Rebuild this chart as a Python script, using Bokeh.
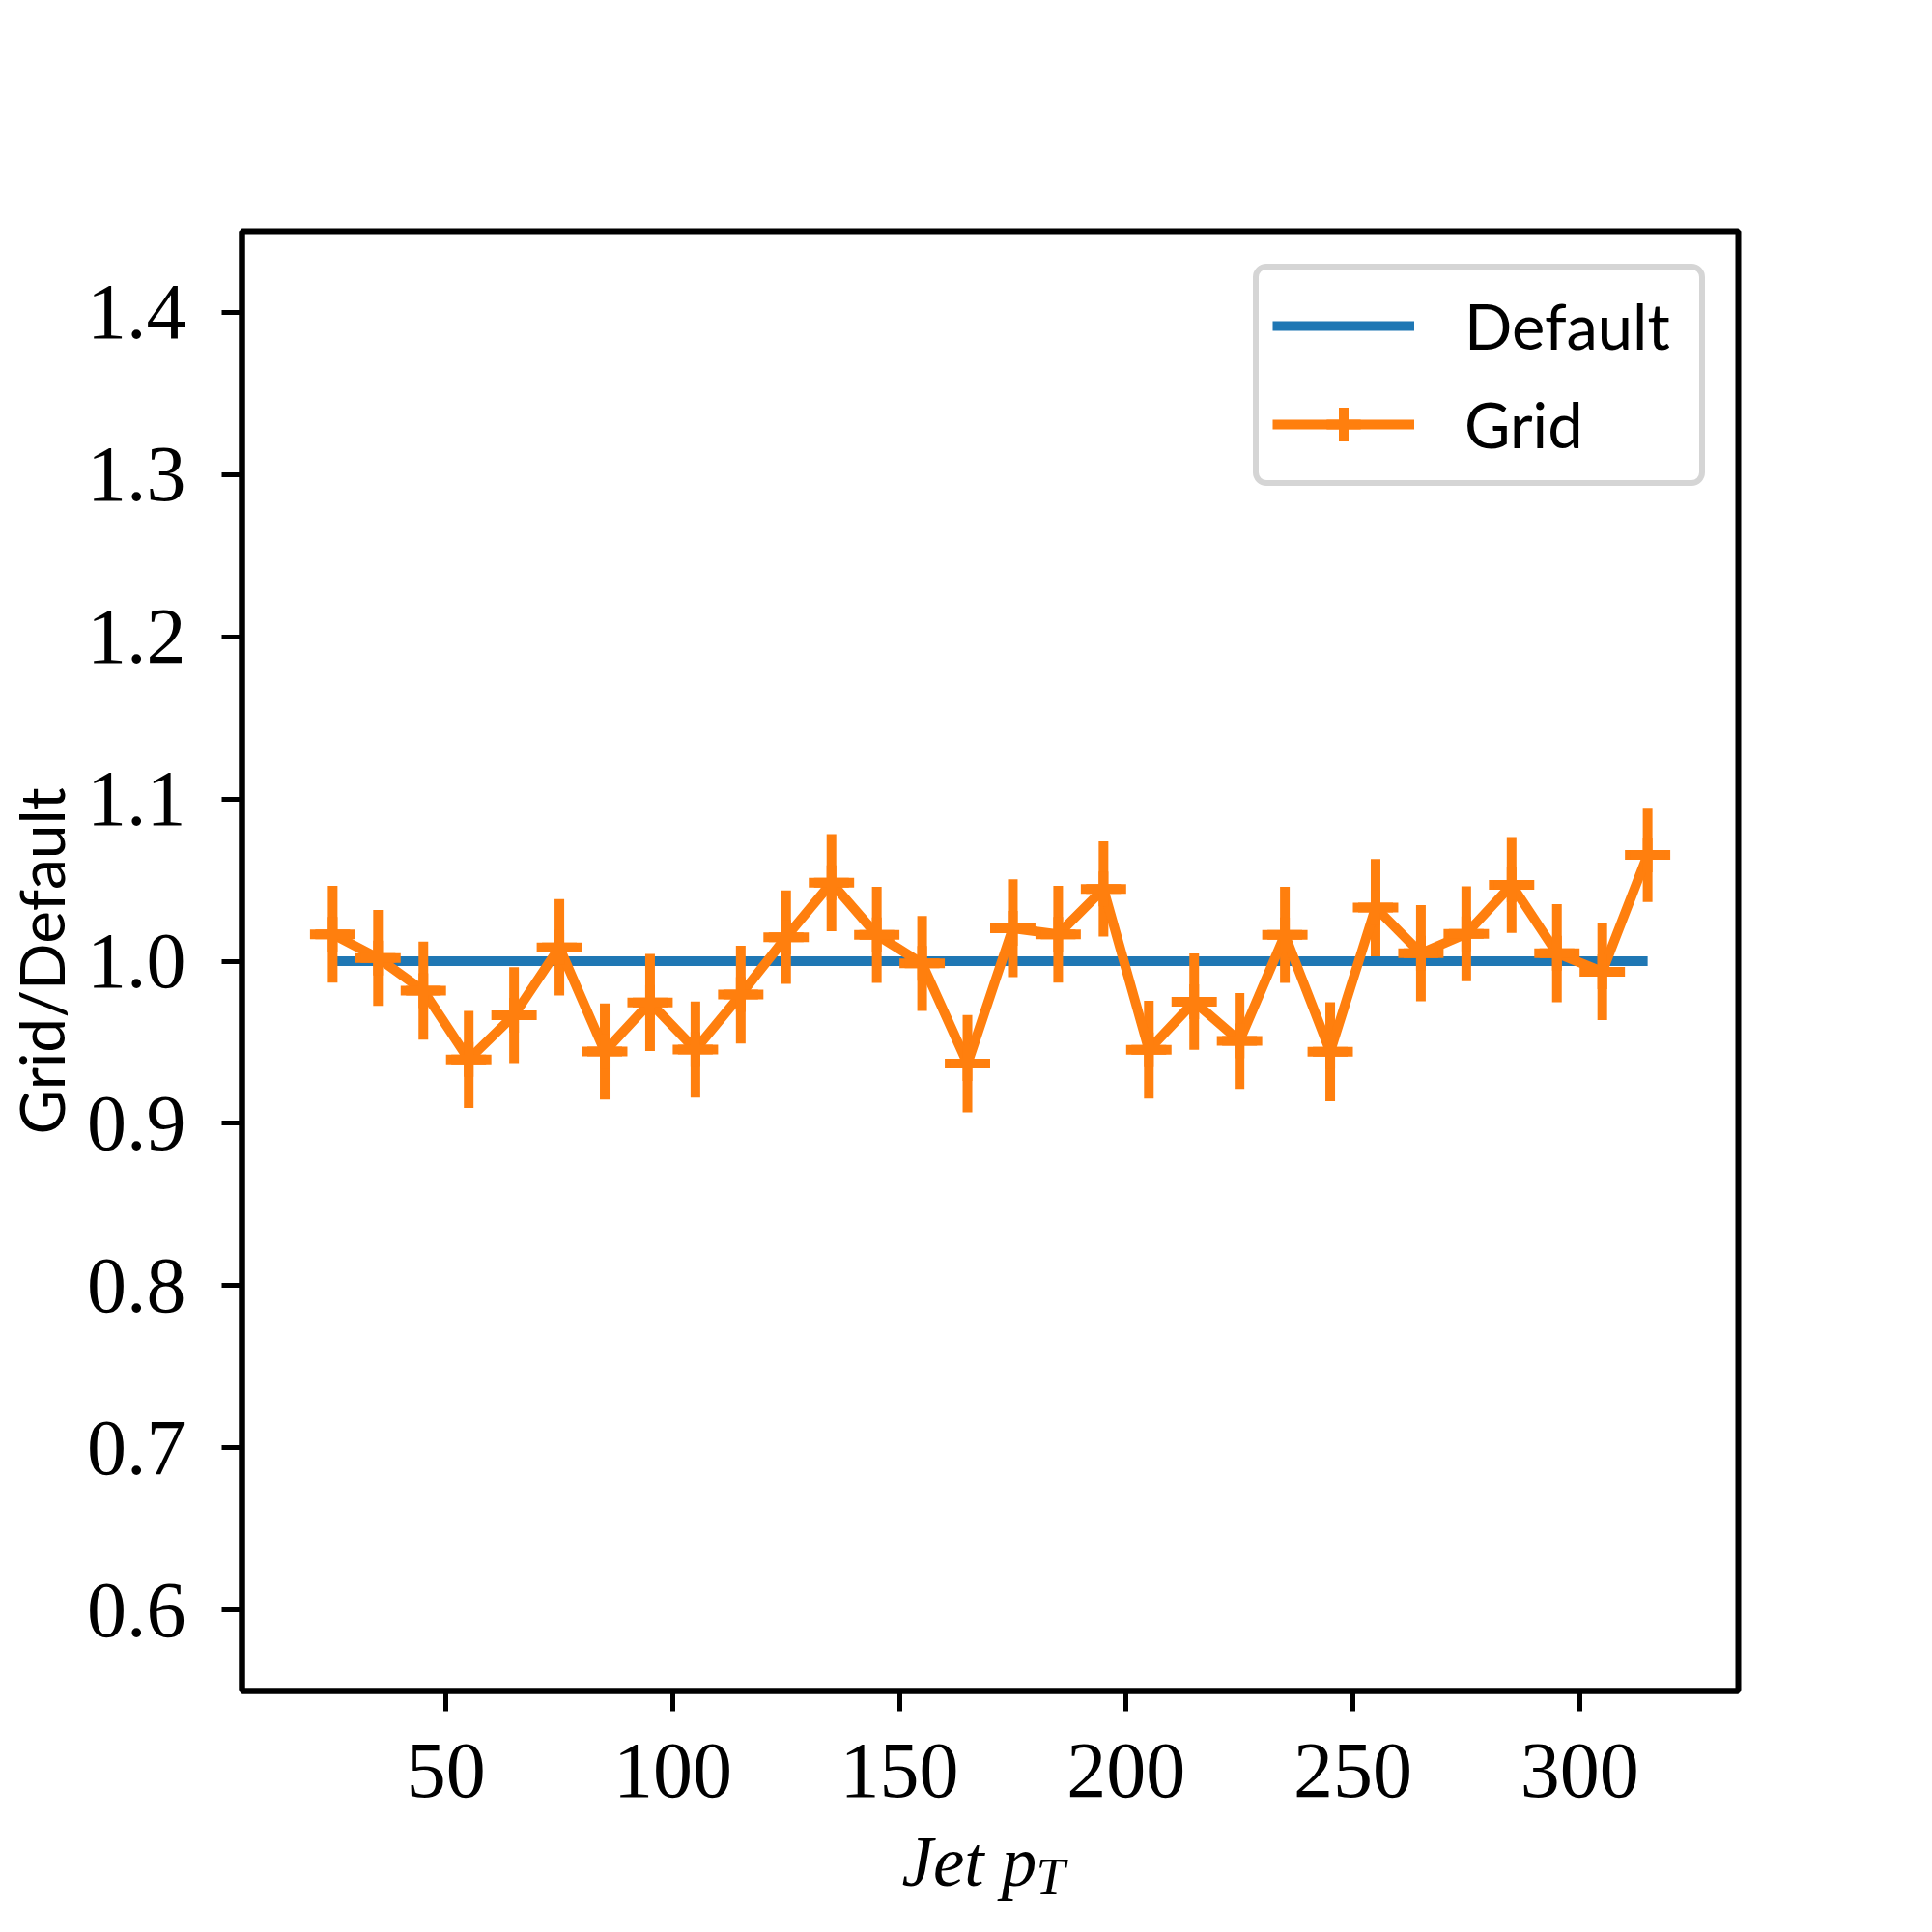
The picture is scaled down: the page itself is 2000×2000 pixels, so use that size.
from bokeh.plotting import figure
from bokeh.models import (Range1d, FixedTicker, PrintfTickFormatter, Legend, LegendItem,
                          ColumnDataSource, Title)
from bokeh.embed import file_html
from bokeh.resources import INLINE

# ---- data ----
jet_pt = [25, 35, 45, 55, 65, 75, 85, 95, 105, 115, 125, 135, 145, 155, 165,
          175, 185, 195, 205, 215, 225, 235, 245, 255, 265, 275, 285, 295, 305, 315]
default_ratio = [1.0] * len(jet_pt)
grid_ratio = [1.0166, 1.002, 0.9818, 0.9394, 0.9667, 1.0085, 0.9443, 0.9745, 0.9455, 0.9794,
              1.0148, 1.0484, 1.0162, 0.9986, 0.9368, 1.0203, 1.0166, 1.0445, 0.9454, 0.9750,
              0.9508, 1.0162, 0.9442, 1.0330, 1.0049, 1.0169, 1.0470, 1.0049, 0.9935, 1.0655]
grid_err = [0.0299, 0.0295, 0.0302, 0.0299, 0.0296, 0.0297, 0.0296, 0.0299, 0.0296, 0.0302,
            0.0288, 0.0299, 0.0296, 0.0293, 0.0300, 0.0302, 0.0299, 0.0293, 0.0302, 0.0297,
            0.0296, 0.0296, 0.0305, 0.0300, 0.0296, 0.0293, 0.0296, 0.0302, 0.0299, 0.0290]
bin_half_width = 5
x_ticks = [50, 100, 150, 200, 250, 300]
y_ticks = [0.6, 0.7, 0.8, 0.9, 1.0, 1.1, 1.2, 1.3, 1.4]

BLUE = "#1f77b4"
ORANGE = "#ff7f0e"
SERIF = "Liberation Serif"
SANS = "Lato"

p = figure(frame_width=1549, frame_height=1511,
           min_border_left=250, min_border_top=239, min_border_right=193, min_border_bottom=242,
           x_range=Range1d(5, 335), y_range=Range1d(0.55, 1.45),
           output_backend="svg", toolbar_location=None)
p.background_fill_color = "white"
p.border_fill_color = "white"
p.xgrid.visible = False
p.ygrid.visible = False
p.outline_line_color = "black"
p.outline_line_width = 6

for ax in (p.xaxis[0], p.yaxis[0]):
    ax.axis_line_width = 6
    ax.major_tick_line_width = 5
    ax.major_tick_in = 0
    ax.major_tick_out = 21
    ax.minor_tick_line_color = None
    ax.major_label_text_font = SERIF
    ax.major_label_text_font_size = "82px"
    ax.major_label_text_color = "black"

p.xaxis.ticker = FixedTicker(ticks=x_ticks)
p.yaxis.ticker = FixedTicker(ticks=y_ticks)
p.yaxis.formatter = PrintfTickFormatter(format="%.1f")
p.xaxis.major_label_standoff = 34
p.yaxis.major_label_standoff = 37

p.yaxis.axis_label = "Grid/Default"
p.yaxis.axis_label_text_font = SANS
p.yaxis.axis_label_text_font_size = "64px"
p.yaxis.axis_label_text_font_style = "normal"
p.yaxis.axis_label_text_color = "black"
p.yaxis.axis_label_standoff = 6

# Default line
r_default = p.line(jet_pt, default_ratio, line_color=BLUE, line_width=10)

# Grid: errorbars + connecting line
src = ColumnDataSource(dict(
    x=jet_pt, y=grid_ratio,
    ylo=[v - e for v, e in zip(grid_ratio, grid_err)],
    yhi=[v + e for v, e in zip(grid_ratio, grid_err)],
    xlo=[x - bin_half_width for x in jet_pt],
    xhi=[x + bin_half_width for x in jet_pt],
))
p.segment(x0="x", y0="ylo", x1="x", y1="yhi", source=src, line_color=ORANGE, line_width=10)
p.segment(x0="xlo", y0="y", x1="xhi", y1="y", source=src, line_color=ORANGE, line_width=10)
r_grid = p.line("x", "y", source=src, line_color=ORANGE, line_width=10, line_join="miter")
# centre cross of each point (hidden beneath the error bars; gives the legend its cross)
r_cross = p.scatter("x", "y", source=src, marker="cross", line_color=ORANGE, line_width=10, size=36)

legend = Legend(items=[
    LegendItem(label="Default", renderers=[r_default]),
    LegendItem(label="Grid", renderers=[r_grid, r_cross]),
], location="top_right")
legend.margin = 34
legend.padding = 14
legend.spacing = 14
legend.glyph_width = 147
legend.glyph_height = 88
legend.label_standoff = 52
legend.label_width = 229
legend.label_text_font = SANS
legend.label_text_font_size = "65px"
legend.label_text_color = "black"
legend.border_line_color = "#d5d5d5"
legend.border_line_alpha = 1.0
legend.border_line_width = 6
legend.background_fill_alpha = 0.8
try:
    legend.border_radius = 14
except Exception:
    pass
p.add_layout(legend, "center")

# x-axis label "Jet p_T" (italic, with subscript T)
p.add_layout(Title(text="Jet p", align="left", offset=683, standoff=44,
                   text_font=SERIF, text_font_style="italic", text_font_size="73px",
                   text_color="black"), "below")
p.add_layout(Title(text="T", align="left", offset=822, standoff=-154, vertical_align="top",
                   text_font=SERIF, text_font_style="italic", text_font_size="54px",
                   text_color="black"), "below")

open("out.html", "w").write(file_html(p, INLINE))
